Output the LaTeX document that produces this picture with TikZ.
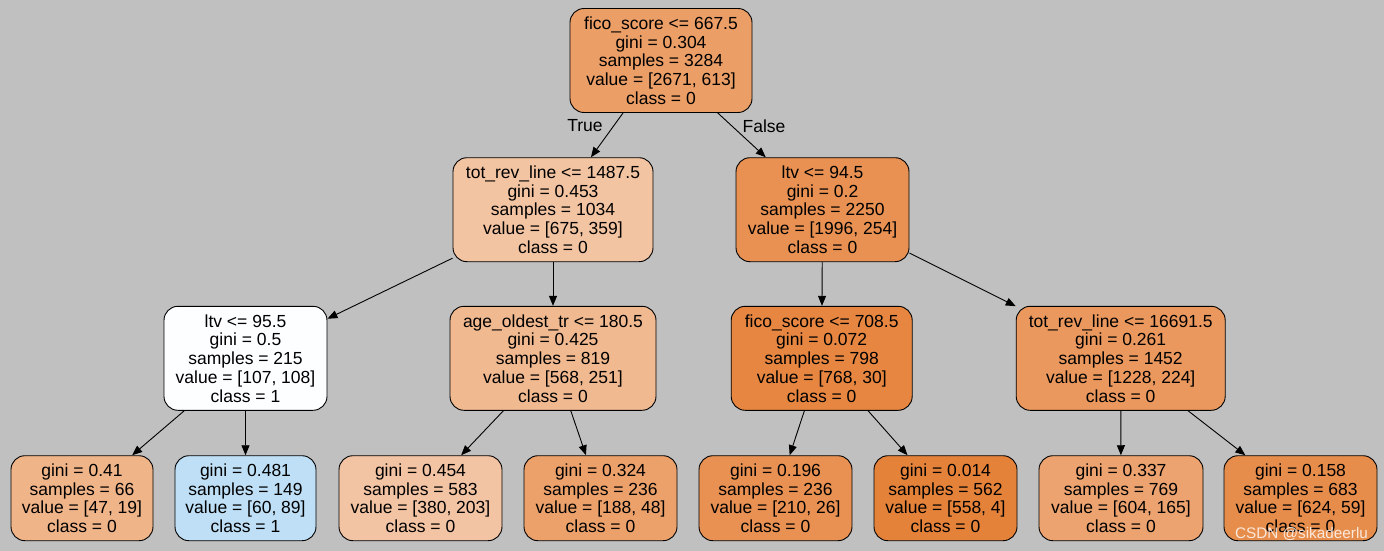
\documentclass[tikz,border=0pt]{standalone}
\usepackage{fontspec}
\setmainfont{Liberation Sans}
\usetikzlibrary{arrows.meta}
\definecolor{bg}{RGB}{192,192,192}
\definecolor{cRoot}{RGB}{235,158,102}
\definecolor{cA}{RGB}{243,196,162}
\definecolor{cB}{RGB}{232,145,82}
\definecolor{cC}{RGB}{253,254,255}
\definecolor{cD}{RGB}{240,185,144}
\definecolor{cE}{RGB}{230,134,65}
\definecolor{cF}{RGB}{234,152,93}
\definecolor{cL1}{RGB}{240,180,137}
\definecolor{cL2}{RGB}{190,223,246}
\definecolor{cL3}{RGB}{243,196,163}
\definecolor{cL4}{RGB}{236,161,107}
\definecolor{cL5}{RGB}{232,145,82}
\definecolor{cL6}{RGB}{229,130,58}
\definecolor{cL7}{RGB}{236,163,111}
\definecolor{cL8}{RGB}{231,141,76}
\begin{document}
\begin{tikzpicture}[x=1pt,y=-1pt,
  tn/.style={draw=black, line width=0.9pt, rounded corners=14pt, align=center,
    inner sep=0pt, text=black, font=\fontsize{17.5}{18.75}\selectfont, minimum height=104pt},
  lf/.style={tn, minimum height=85pt},
  ed/.style={-{Triangle[length=10pt,width=8pt]}, line width=0.9pt, draw=black},
  lab/.style={font=\fontsize{17.5}{18.75}\selectfont, inner sep=0pt, text=black}]
\fill[bg] (0,0) rectangle (1384,551);
\useasboundingbox (0,0) rectangle (1384,551);

\node[tn, fill=cRoot, minimum width=182pt] (root) at (661,60.5)
  {fico\_score <= 667.5\\gini = 0.304\\samples = 3284\\value = [2671, 613]\\class = 0};

\node[tn, fill=cA, minimum width=200pt] (n1) at (553,209.7)
  {tot\_rev\_line <= 1487.5\\gini = 0.453\\samples = 1034\\value = [675, 359]\\class = 0};
\node[tn, fill=cB, minimum width=173pt] (n2) at (822.5,209.7)
  {ltv <= 94.5\\gini = 0.2\\samples = 2250\\value = [1996, 254]\\class = 0};

\node[tn, fill=cC, minimum width=163pt] (n3) at (245.5,358.3)
  {ltv <= 95.5\\gini = 0.5\\samples = 215\\value = [107, 108]\\class = 1};
\node[tn, fill=cD, minimum width=206pt] (n4) at (553,358.3)
  {age\_oldest\_tr <= 180.5\\gini = 0.425\\samples = 819\\value = [568, 251]\\class = 0};
\node[tn, fill=cE, minimum width=181pt] (n5) at (821.7,358.3)
  {fico\_score <= 708.5\\gini = 0.072\\samples = 798\\value = [768, 30]\\class = 0};
\node[tn, fill=cF, minimum width=209pt] (n6) at (1120.7,358.3)
  {tot\_rev\_line <= 16691.5\\gini = 0.261\\samples = 1452\\value = [1228, 224]\\class = 0};

\node[lf, fill=cL1, minimum width=142pt] (l1) at (82,498.2)
  {gini = 0.41\\samples = 66\\value = [47, 19]\\class = 0};
\node[lf, fill=cL2, minimum width=141pt] (l2) at (245.5,498.2)
  {gini = 0.481\\samples = 149\\value = [60, 89]\\class = 1};
\node[lf, fill=cL3, minimum width=163pt] (l3) at (420.5,498.2)
  {gini = 0.454\\samples = 583\\value = [380, 203]\\class = 0};
\node[lf, fill=cL4, minimum width=153pt] (l4) at (600.5,498.2)
  {gini = 0.324\\samples = 236\\value = [188, 48]\\class = 0};
\node[lf, fill=cL5, minimum width=153pt] (l5) at (775.5,498.2)
  {gini = 0.196\\samples = 236\\value = [210, 26]\\class = 0};
\node[lf, fill=cL6, minimum width=143pt] (l6) at (945.5,498.2)
  {gini = 0.014\\samples = 562\\value = [558, 4]\\class = 0};
\node[lf, fill=cL7, minimum width=164pt] (l7) at (1121,498.2)
  {gini = 0.337\\samples = 769\\value = [604, 165]\\class = 0};
\node[lf, fill=cL8, minimum width=153pt] (l8) at (1300.5,498.2)
  {gini = 0.158\\samples = 683\\value = [624, 59]\\class = 0};

\draw[ed] (root) -- (n1);
\draw[ed] (root) -- (n2);
\draw[ed] (n1) -- (n3);
\draw[ed] (n1) -- (n4);
\draw[ed] (n2) -- (n5);
\draw[ed] (n2) -- (n6);
\draw[ed] (n3) -- (l1);
\draw[ed] (n3) -- (l2);
\draw[ed] (n4) -- (l3);
\draw[ed] (n4) -- (l4);
\draw[ed] (n5) -- (l5);
\draw[ed] (n5) -- (l6);
\draw[ed] (n6) -- (l7);
\draw[ed] (n6) -- (l8);

\node[lab] (ltrue) at (585,126) {True};
\node[lab] (lfalse) at (764,126) {False};

\node[font=\fontsize{15.3}{16}\selectfont, text=white, text opacity=0.8, inner sep=0pt] (wm) at (1301.5,534.5) {CSDN @sikadeerlu};
\end{tikzpicture}
\end{document}
